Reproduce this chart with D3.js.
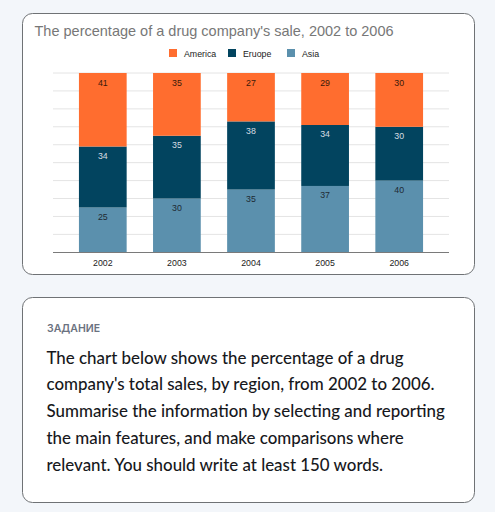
<!DOCTYPE html>
<html>
<head>
<meta charset="utf-8">
<script src="https://cdn.jsdelivr.net/npm/d3@7"></script>
<style>
  html, body { margin: 0; padding: 0; background: #f3f6fa; }
  svg { display: block; }
</style>
</head>
<body>
<div id="page"></div>
<script>
// chart data
var years = ["2002", "2003", "2004", "2005", "2006"];
var regions = ["America", "Eruope", "Asia"];
var america = [41, 35, 27, 29, 30];
var europe = [34, 35, 38, 34, 30];
var asia = [25, 30, 35, 37, 40];
var yTicks = [0, 10, 20, 30, 40, 50, 60, 70, 80, 90, 100];

var taskLabel = "ЗАДАНИЕ";
var taskLines = [
  "The chart below shows the percentage of a drug",
  "company's total sales, by region, from 2002 to 2006.",
  "Summarise the information by selecting and reporting",
  "the main features, and make comparisons where",
  "relevant. You should write at least 150 words."
];

var colors = {America: "#ff6d2f", Eruope: "#02445f", Asia: "#5b90ad"};
var labelColors = {America: "#3a1a0a", Eruope: "#d6dde2", Asia: "#1e2a33"};

var width = 495, height = 512;

var svg = d3.select("#page")
  .append("svg")
  .attr("width", width)
  .attr("height", height);

// cards
svg.append("rect")
  .attr("x", 22.5).attr("y", 13.5)
  .attr("width", 452).attr("height", 261)
  .attr("rx", 10).attr("ry", 10)
  .style("fill", "#ffffff")
  .style("stroke", "#6f7275")
  .style("stroke-width", 1);

svg.append("rect")
  .attr("x", 22.5).attr("y", 297.5)
  .attr("width", 452).attr("height", 205)
  .attr("rx", 10).attr("ry", 10)
  .style("fill", "#ffffff")
  .style("stroke", "#6f7275")
  .style("stroke-width", 1);

// title
svg.append("text")
  .attr("x", 34.5).attr("y", 35.5)
  .style("font-family", "'Liberation Sans', Arial, sans-serif")
  .style("font-size", "14.5px")
  .style("fill", "#777777")
  .text("The percentage of a drug company's sale, 2002 to 2006");

// legend
var legendX = [169, 228, 287];
var legend = svg.append("g").attr("class", "legend")
  .selectAll("g")
  .data(regions)
  .enter().append("g")
  .attr("transform", function(d, i) { return "translate(" + legendX[i] + ",49)"; });

legend.append("rect")
  .attr("width", 8).attr("height", 8)
  .style("fill", function(d) { return colors[d]; });

legend.append("text")
  .attr("x", 15).attr("y", 7.5)
  .style("font-family", "'Liberation Sans', Arial, sans-serif")
  .style("font-size", "8.8px")
  .style("fill", "#222222")
  .text(function(d) { return d; });

// scales
var x = d3.scaleBand()
  .domain(years)
  .range([53, 449])
  .paddingInner(0.356)
  .paddingOuter(0.35);

var y = d3.scaleLinear()
  .domain([0, 100])
  .range([252.3, 73]);

// gridlines
svg.append("g").attr("class", "grid")
  .selectAll("line")
  .data(yTicks.slice(1))
  .enter().append("line")
  .attr("x1", 53).attr("x2", 449)
  .attr("y1", function(d) { return y(d); })
  .attr("y2", function(d) { return y(d); })
  .style("stroke", "#e4e4e4")
  .style("stroke-width", 1);

// stack
var rows = years.map(function(yr, i) {
  return {year: yr, Asia: asia[i], Eruope: europe[i], America: america[i]};
});
var stack = d3.stack().keys(["Asia", "Eruope", "America"]);
var series = stack(rows);

var layers = svg.append("g").attr("class", "bars")
  .selectAll("g")
  .data(series)
  .enter().append("g")
  .style("fill", function(d) { return colors[d.key]; });

layers.selectAll("rect")
  .data(function(d) { return d; })
  .enter().append("rect")
  .attr("x", function(d) { return x(d.data.year); })
  .attr("y", function(d) { return y(d[1]); })
  .attr("width", x.bandwidth())
  .attr("height", function(d) { return y(d[0]) - y(d[1]); });

// value labels
series.forEach(function(s) {
  svg.append("g")
    .selectAll("text")
    .data(s)
    .enter().append("text")
    .attr("x", function(d) { return x(d.data.year) + x.bandwidth() / 2; })
    .attr("y", function(d) { return y(d[1]) + 12.5; })
    .attr("text-anchor", "middle")
    .style("font-family", "'Liberation Sans', Arial, sans-serif")
    .style("font-size", "8.8px")
    .style("fill", labelColors[s.key])
    .text(function(d) { return d[1] - d[0]; });
});

// x axis
var xAxis = svg.append("g")
  .attr("transform", "translate(0,252.3)")
  .call(d3.axisBottom(x).tickSize(0).tickPadding(7));
xAxis.select(".domain").remove();
xAxis.selectAll("text")
  .style("font-family", "'Liberation Sans', Arial, sans-serif")
  .style("font-size", "8.8px")
  .style("fill", "#222222");

svg.append("line")
  .attr("x1", 53).attr("x2", 449)
  .attr("y1", 252.5).attr("y2", 252.5)
  .style("stroke", "#7a7a7a")
  .style("stroke-width", 1);

// task card text
svg.append("text")
  .attr("x", 47).attr("y", 332)
  .style("font-family", "Inter, 'Noto Sans', sans-serif")
  .style("font-size", "10.5px")
  .style("font-weight", 600)
  .style("fill", "#6b7280")
  .text(taskLabel);

svg.append("g")
  .selectAll("text")
  .data(taskLines)
  .enter().append("text")
  .attr("x", 46.5)
  .attr("y", function(d, i) { return 363.5 + i * 26.8; })
  .style("font-family", "Lato, Inter, sans-serif")
  .style("font-size", "16.9px")
  .style("font-weight", 500)
  .style("fill", "#17181c")
  .text(function(d) { return d; });
</script>
</body>
</html>
